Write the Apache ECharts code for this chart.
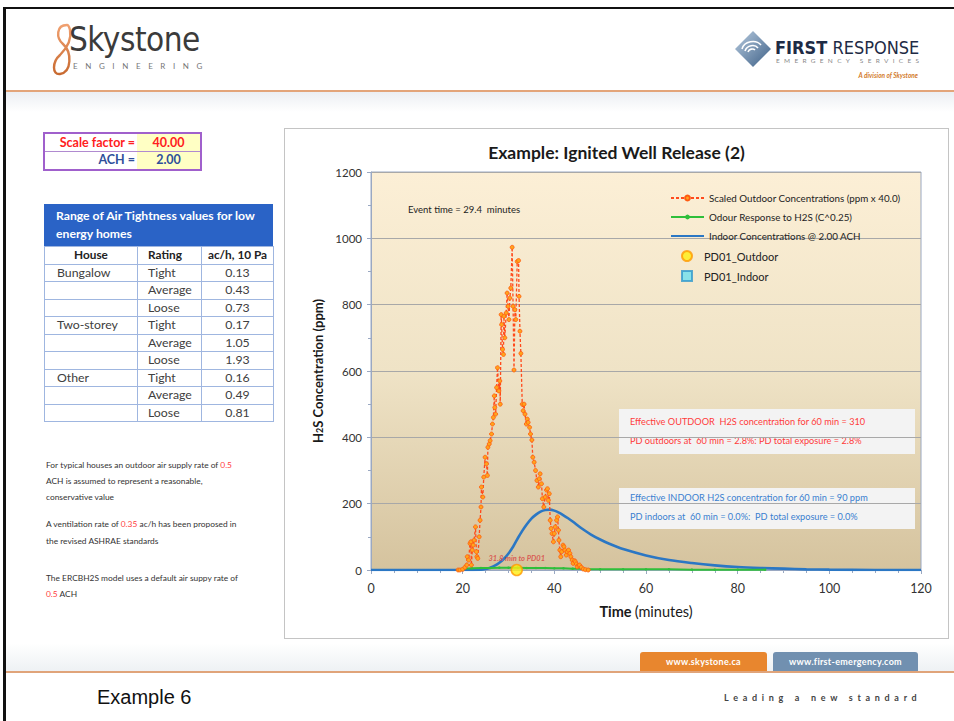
<!DOCTYPE html>
<html><head><meta charset="utf-8">
<script src="https://cdn.jsdelivr.net/npm/echarts/dist/echarts.min.js"></script>
<style>
html,body{margin:0;padding:0;background:#fff;}
body{width:954px;height:721px;position:relative;overflow:hidden;font-family:Lato,"Open Sans",sans-serif;}
.abs{position:absolute;}
#chart{position:absolute;left:284px;top:128px;width:663px;height:509px;border:1px solid #c4c4c4;background:#fff;}
table{border-collapse:collapse;table-layout:fixed;}
#air td{border:1px solid #9fb6e0;padding:0;height:16.5px;font-size:12.3px;color:#404040;line-height:16px;white-space:nowrap;overflow:hidden;}
#air .num{text-align:center;}
#air .hd td{font-weight:bold;color:#222;font-size:11.8px;}
.note{font-size:8.4px;color:#333;line-height:16px;white-space:nowrap;}
.red{color:#ff4040;}
</style></head>
<body>
<!-- slide frame -->
<div class="abs" style="left:3px;top:7px;width:951px;height:2px;background:#111;"></div>
<div class="abs" style="left:3px;top:7px;width:3px;height:714px;background:#111;"></div>
<!-- header -->
<svg class="abs" style="left:50px;top:22px" width="26" height="56" viewBox="0 0 26 56">
<defs><linearGradient id="og" x1="0" y1="0" x2="0" y2="1"><stop offset="0" stop-color="#f0a070"/><stop offset="1" stop-color="#c86a30"/></linearGradient></defs>
<path d="M17 3 C6 3,6 16,13 22 C22 30,22 50,10 52 C2 53,2 40,10 33 C16 27,22 18,20 8 C19 4,18 3,17 3 Z" fill="none" stroke="url(#og)" stroke-width="2.4"/>
</svg>
<div class="abs" style="left:69px;top:20px;font-family:'DejaVu Sans Condensed','Liberation Sans Narrow',sans-serif;font-size:33px;color:#3b3b3b;letter-spacing:-0.5px;">Skystone</div>
<div class="abs" style="left:73px;top:61px;font-size:8px;color:#777;letter-spacing:7.6px;">ENGINEERING</div>
<svg class="abs" style="left:734px;top:30px" width="38" height="38" viewBox="0 0 38 38">
<defs><linearGradient id="bg1" x1="0" y1="0" x2="1" y2="1"><stop offset="0" stop-color="#b8cce0"/><stop offset="1" stop-color="#3d5f86"/></linearGradient></defs>
<polygon points="19,1 37,19 19,37 1,19" fill="url(#bg1)"/>
<path d="M8 19 C10 11,22 9,27 15 M11 21 C13 15,21 14,24 18 M14 22 C15 19,19 18,21 20" stroke="#fff" stroke-width="1.6" fill="none"/>
</svg>
<div class="abs" style="left:775px;top:37px;font-family:'Liberation Sans Narrow','DejaVu Sans Condensed',sans-serif;font-size:18px;color:#1e2b45;"><b>FIRST</b> RESPONSE</div>
<div class="abs" style="left:776px;top:57px;font-size:6.5px;color:#888;letter-spacing:4.3px;">EMERGENCY SERVICES</div>
<div class="abs" style="left:818px;top:72px;width:100px;text-align:right;font-size:6.5px;color:#d27a2c;font-weight:bold;font-style:italic;">A division of Skystone</div>
<div class="abs" style="left:6px;top:90px;width:948px;height:2px;background:#e3a57a;"></div>
<div class="abs" style="left:6px;top:92px;width:948px;height:20px;background:linear-gradient(#eceff3,#ffffff);"></div>

<!-- scale factor table -->
<div class="abs" style="left:43px;top:132px;width:155px;height:35px;border:2px solid #a060cc;background:#fff;">
  <div class="abs" style="left:92px;top:0;width:63px;height:35px;background:#ffffc4;"></div>
  <div class="abs" style="left:0;top:17px;width:155px;height:1px;background:#b08ad0;"></div>
  <div class="abs" style="left:0;top:1px;width:90px;text-align:right;font-size:12.5px;font-weight:bold;color:#ff2020;">Scale factor =</div>
  <div class="abs" style="left:92px;top:1px;width:63px;text-align:center;font-size:12.5px;font-weight:bold;color:#ff2020;">40.00</div>
  <div class="abs" style="left:0;top:18px;width:90px;text-align:right;font-size:12.5px;font-weight:bold;color:#2f4f9a;">ACH =</div>
  <div class="abs" style="left:92px;top:18px;width:63px;text-align:center;font-size:12.5px;font-weight:bold;color:#2f4f9a;">2.00</div>
</div>

<!-- air tightness table -->
<div class="abs" style="left:44px;top:204px;width:229px;height:42px;background:#2a63c6;color:#fff;font-weight:bold;font-size:12.2px;line-height:17.5px;padding:3px 0 0 12px;box-sizing:border-box;white-space:nowrap;">Range of Air Tightness values for low<br>energy homes</div>
<table id="air" class="abs" style="left:44px;top:246px;width:229px;">
<colgroup><col style="width:93px"><col style="width:64px"><col style="width:72px"></colgroup>
<tr class="hd"><td style="text-align:center">House</td><td style="padding-left:10px">Rating</td><td class="num">ac/h, 10 Pa</td></tr>
<tr><td style="padding-left:12px">Bungalow</td><td style="padding-left:10px">Tight</td><td class="num">0.13</td></tr>
<tr><td></td><td style="padding-left:10px">Average</td><td class="num">0.43</td></tr>
<tr><td></td><td style="padding-left:10px">Loose</td><td class="num">0.73</td></tr>
<tr><td style="padding-left:12px">Two-storey</td><td style="padding-left:10px">Tight</td><td class="num">0.17</td></tr>
<tr><td></td><td style="padding-left:10px">Average</td><td class="num">1.05</td></tr>
<tr><td></td><td style="padding-left:10px">Loose</td><td class="num">1.93</td></tr>
<tr><td style="padding-left:12px">Other</td><td style="padding-left:10px">Tight</td><td class="num">0.16</td></tr>
<tr><td></td><td style="padding-left:10px">Average</td><td class="num">0.49</td></tr>
<tr><td></td><td style="padding-left:10px">Loose</td><td class="num">0.81</td></tr>
</table>

<!-- notes -->
<div class="abs note" style="left:46px;top:457px;">For typical houses an outdoor air supply rate of <span class="red">0.5</span></div>
<div class="abs note" style="left:46px;top:473px;">ACH is assumed to represent a reasonable,</div>
<div class="abs note" style="left:46px;top:489px;">conservative value</div>
<div class="abs note" style="left:46px;top:516px;">A ventilation rate of <span class="red">0.35</span> ac/h has been proposed in</div>
<div class="abs note" style="left:46px;top:533px;">the revised ASHRAE standards</div>
<div class="abs note" style="left:46px;top:570px;">The ERCBH2S model uses a default air suppy rate of</div>
<div class="abs note" style="left:46px;top:586px;"><span class="red">0.5</span> ACH</div>

<div id="chart"></div>

<!-- footer -->
<div class="abs" style="left:6px;top:643px;width:948px;height:28px;background:linear-gradient(#ffffff,#eef1f4);"></div>
<div class="abs" style="left:640px;top:652px;width:127px;height:19px;background:#e8862e;border-radius:3px 3px 0 0;color:#fff;font-weight:bold;font-size:9px;text-align:center;line-height:19px;letter-spacing:0.3px;">www.skystone.ca</div>
<div class="abs" style="left:773px;top:652px;width:145px;height:19px;background:#7190b0;border-radius:3px 3px 0 0;color:#fff;font-weight:bold;font-size:9px;text-align:center;line-height:19px;letter-spacing:0.3px;">www.first-emergency.com</div>
<div class="abs" style="left:6px;top:671px;width:948px;height:2px;background:#e0a47a;"></div>
<div class="abs" style="left:97px;top:686px;font-family:'Liberation Sans',Arial,sans-serif;font-size:20px;color:#111;">Example 6</div>
<div class="abs" style="left:724px;top:692px;font-size:9px;font-weight:bold;color:#444;letter-spacing:4.7px;">Leading a new standard</div>

<script>
// ---------------- data ----------------
const xTicks = [0, 20, 40, 60, 80, 100, 120];
const yTicks = [0, 200, 400, 600, 800, 1000, 1200];

const outdoorTime = [19.0,19.4,20.0,20.5,20.9,21.0,21.3,21.6,21.8,21.9,22.1,22.3,22.5,22.8,23.0,23.1,23.3,23.6,23.8,24.0,24.1,24.4,24.6,24.9,25.2,25.4,25.5,25.8,26.0,26.3,26.5,26.7,26.9,27.0,27.2,27.4,27.6,27.9,28.1,28.2,28.4,28.5,28.7,28.9,29.0,29.2,29.5,29.7,29.9,30.1,30.3,30.5,30.8,31.0,31.2,31.4,31.6,31.9,32.2,32.3,32.5,32.7,33.0,33.2,33.4,33.6,33.9,34.1,34.3,34.6,34.8,35.1,35.3,35.6,35.9,36.2,36.5,36.7,36.9,37.2,37.4,37.7,38.0,38.3,38.5,38.7,38.9,39.1,39.3,39.5,39.8,40.0,40.2,40.5,40.7,40.9,41.0,41.2,41.4,41.6,41.9,42.1,42.3,42.6,42.8,43.1,43.4,43.6,43.9,44.1,44.4,44.6,44.8,45.0,45.3,45.5,45.9,46.3,46.8,47.4];
const outdoorVal  = [0,0,2,8,15,40,30,80,85,15,60,75,90,130,55,40,35,100,150,190,250,220,280,340,320,285,370,380,390,410,440,460,525,490,470,550,610,540,570,500,770,740,665,650,765,700,775,835,795,755,820,850,973,795,603,785,755,930,933,825,720,653,500,480,500,470,440,455,445,430,410,392,340,325,300,270,250,275,290,260,215,190,220,241,245,210,230,150,125,110,85,110,130,150,160,120,90,60,40,55,75,70,60,45,55,60,50,40,30,20,28,25,18,10,14,15,8,3,1,0];

const odourTime = [19,20,22,24,26,28,30,32,34,36,38,40,42,44,46,47,50,55,60,65,70,75,80,86];
const odourVal  = [0,4,5,6,6,7,7,7,6,6,6,5,5,4,4,2,2,2,2,2,1,1,1,1];

const indoorTime = [0,20,24,25,26,27,28,29,30,31,32,33,34,35,36,37,38,39,40,41,42,43,44,46,48,50,52,55,60,65,70,75,80,85,90,95,100,110,120];
const indoorVal  = [0,0,1,3,7,13,22,34,50,70,95,118,138,155,167,176,181,182,179,173,165,156,146,125,107,92,79,63,44,30,21,14,9,6,4,2,1,0,0];

const pdOutdoorTime = [31.8];
const pdOutdoorVal  = [0];

const seriesNames = ['Scaled Outdoor Concentrations (ppm x 40.0)', 'Odour Response to H2S (C^0.25)', 'Indoor Concentrations @ 2.00 ACH', 'PD01_Outdoor', 'PD01_Indoor'];

const pairs = (xs, ys) => xs.map((x, i) => [x, ys[i]]);

// ---------------- chart ----------------
const chart = echarts.init(document.getElementById('chart'), null, {renderer: 'svg'});
const FONT = 'Lato, "Open Sans", sans-serif';
const option = {
  animation: false,
  textStyle: {fontFamily: FONT},
  title: {
    text: 'Example: Ignited Well Release (2)',
    left: 'center', top: 9,
    textStyle: {fontSize: 17.5, fontWeight: 'bold', color: '#1a1a1a', fontFamily: FONT}
  },
  grid: {
    left: 86, top: 43, width: 550, height: 398,
    show: true, borderColor: '#9aa8c2', borderWidth: 1,
    backgroundColor: new echarts.graphic.LinearGradient(0, 0, 0, 1, [
      {offset: 0, color: '#fcefd6'}, {offset: 0.5, color: '#efe3c6'}, {offset: 1, color: '#d5c39e'}
    ])
  },
  legend: [
    {
      orient: 'vertical', left: 380, top: 59, itemGap: 9, itemWidth: 33, itemHeight: 6,
      textStyle: {fontSize: 9.8, color: '#222', fontFamily: FONT},
      data: [
        {name: seriesNames[0]},
        {name: seriesNames[1]},
        {name: seriesNames[2], itemStyle: {color: 'rgba(0,0,0,0)', borderColor: 'rgba(0,0,0,0)', borderWidth: 0}}
      ]
    },
    {
      orient: 'vertical', left: 391, top: 116, itemGap: 8, itemWidth: 10, itemHeight: 10,
      textStyle: {fontSize: 11, color: '#222', fontFamily: FONT, padding: [0, 0, 0, 7]},
      data: [{name: seriesNames[3]}, {name: seriesNames[4]}]
    }
  ],
  xAxis: {
    type: 'value', min: xTicks[0], max: xTicks[xTicks.length - 1], interval: 20,
    name: '{b|Time} {r|(minutes)}', nameLocation: 'middle', nameGap: 34,
    nameTextStyle: {rich: {b: {fontSize: 14.5, fontWeight: 'bold', color: '#1a1a1a', fontFamily: FONT}, r: {fontSize: 14.5, color: '#1a1a1a', fontFamily: FONT}}},
    axisLine: {show: true, lineStyle: {color: '#9aa8c2'}},
    axisTick: {show: true, length: 4, lineStyle: {color: '#9aa8c2'}},
    minorTick: {show: true, splitNumber: 4, length: 3, lineStyle: {color: '#9aa8c2'}},
    axisLabel: {fontSize: 12.5, color: '#333', margin: 12, formatter: v => String(v)},
    splitLine: {show: false}
  },
  yAxis: {
    type: 'value', min: yTicks[0], max: yTicks[yTicks.length - 1], interval: 200,
    name: '{b|H}{s|2}{b|S Concentration (ppm)}', nameLocation: 'middle', nameGap: 47, nameRotate: 90,
    nameTextStyle: {rich: {b: {fontSize: 13, fontWeight: 'bold', color: '#1a1a1a', fontFamily: FONT}, s: {fontSize: 9, fontWeight: 'bold', color: '#1a1a1a', verticalAlign: 'bottom', fontFamily: FONT}}},
    axisLine: {show: true, lineStyle: {color: '#9aa8c2'}},
    axisTick: {show: true, length: 4, lineStyle: {color: '#9aa8c2'}},
    minorTick: {show: true, splitNumber: 2, length: 3, lineStyle: {color: '#9aa8c2'}},
    axisLabel: {fontSize: 11.5, color: '#333', margin: 9, formatter: v => String(v)},
    splitLine: {show: true, lineStyle: {color: '#a8a8a8', width: 1}}
  },
  series: [
    {
      name: seriesNames[0], type: 'line', z: 4,
      data: pairs(outdoorTime, outdoorVal),
      symbol: 'circle', symbolSize: 4, showAllSymbol: true,
      lineStyle: {color: '#ff4a1c', width: 1.3, type: [3, 2]},
      itemStyle: {color: '#ffa41c', borderColor: '#ff5a10', borderWidth: 0.8}
    },
    {
      name: seriesNames[1], type: 'line', z: 3,
      data: pairs(odourTime, odourVal),
      symbol: 'circle', symbolSize: 2.5, showAllSymbol: true,
      lineStyle: {color: '#2fbf3a', width: 2},
      itemStyle: {color: '#2fbf3a'}
    },
    {
      name: seriesNames[2], type: 'line', z: 2, smooth: 0.3,
      data: pairs(indoorTime, indoorVal),
      symbol: 'none',
      lineStyle: {color: '#2b77c4', width: 2.6},
      itemStyle: {color: '#2b77c4'}
    },
    {
      name: seriesNames[3], type: 'scatter', z: 6,
      data: pairs(pdOutdoorTime, pdOutdoorVal),
      symbol: 'circle', symbolSize: 11,
      itemStyle: {color: '#ffee10', borderColor: '#ff9a00', borderWidth: 1.5},
      label: {show: true, position: 'top', distance: 1, formatter: '31.8 min to PD01',
        fontSize: 7.5, fontStyle: 'italic', fontWeight: 'bold', color: '#d94040'}
    },
    {
      name: seriesNames[4], type: 'scatter', z: 6,
      data: [],
      symbol: 'rect', symbolSize: 9,
      itemStyle: {color: '#6ee0f0', borderColor: '#3399cc', borderWidth: 1}
    }
  ],
  graphic: [
    {type: 'text', left: 123, top: 75, style: {text: 'Event time = 29.4  minutes', fontSize: 9.5, fill: '#222', fontFamily: FONT}},
    {type: 'rect', left: 334, top: 280, shape: {width: 296, height: 45}, style: {fill: '#f3f3f3'}},
    {type: 'text', left: 345, top: 288, style: {text: 'Effective OUTDOOR  H2S concentration for 60 min = 310', fontSize: 9.2, fill: '#ff3b3b', fontFamily: FONT}},
    {type: 'text', left: 345, top: 307, style: {text: 'PD outdoors at  60 min = 2.8%: PD total exposure = 2.8%', fontSize: 9.2, fill: '#ff3b3b', fontFamily: FONT}},
    {type: 'rect', left: 334, top: 359, shape: {width: 296, height: 41}, style: {fill: '#f3f3f3'}},
    {type: 'text', left: 345, top: 364, style: {text: 'Effective INDOOR H2S concentration for 60 min = 90 ppm', fontSize: 9.2, fill: '#3a7fd0', fontFamily: FONT}},
    {type: 'text', left: 345, top: 383, style: {text: 'PD indoors at  60 min = 0.0%:  PD total exposure = 0.0%', fontSize: 9.2, fill: '#3a7fd0', fontFamily: FONT}}
  ]
};
chart.setOption(option);
</script>
</body></html>
